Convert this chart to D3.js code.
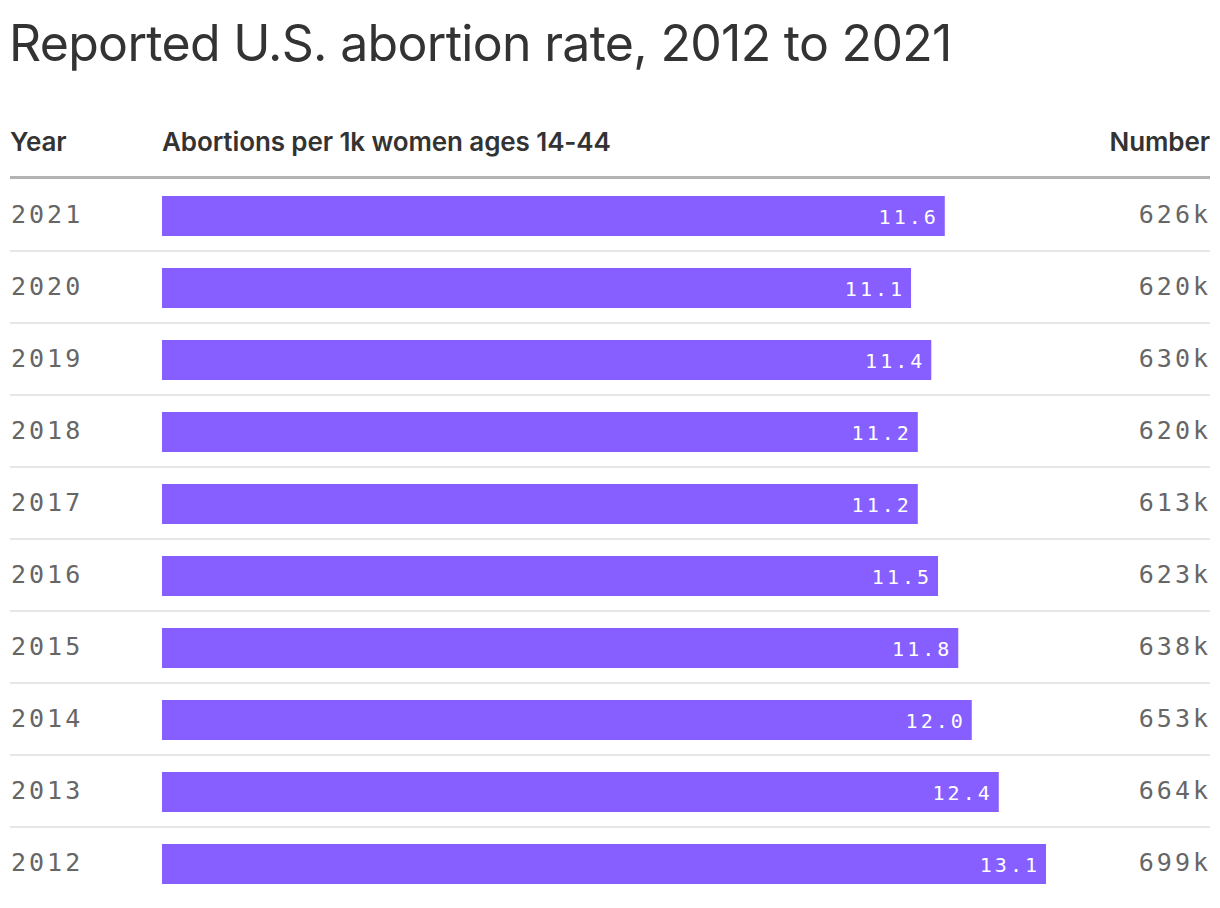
<!DOCTYPE html>
<html>
<head>
<meta charset="utf-8">
<script src="https://cdn.jsdelivr.net/npm/d3@7"></script>
<style>
  body { margin: 0; background: #fff; }
  .title { font-family: Inter, "Noto Sans", sans-serif; font-size: 50px; font-weight: 400; fill: #333; letter-spacing: -0.7px; }
  .head { font-family: Inter, "Noto Sans", sans-serif; font-size: 26px; font-weight: 600; fill: #333; letter-spacing: -0.1px; }
  .mono { font-family: "DejaVu Sans Mono", "Liberation Mono", monospace; }
  .year, .num { font-size: 25px; fill: #666; letter-spacing: 3px; }
  .val { font-size: 20px; fill: #fff; letter-spacing: 3px; }
</style>
</head>
<body>
<div id="chart"></div>
<script>
// Values
const years = ['2021', '2020', '2019', '2018', '2017', '2016', '2015', '2014', '2013', '2012'];
const rates = [11.6, 11.1, 11.4, 11.2, 11.2, 11.5, 11.8, 12.0, 12.4, 13.1];
const numbers = ['626k', '620k', '630k', '620k', '613k', '623k', '638k', '653k', '664k', '699k'];

const width = 1220;
const height = 908;
const left = 10;
const right = 1210;
const barLeft = 162;

const rows = years.map((y, i) => ({ year: y, rate: rates[i], number: numbers[i] }));

const svg = d3.select('#chart').append('svg')
  .attr('width', width)
  .attr('height', height);

// Scales
const x = d3.scaleLinear().domain([0, 13.1]).range([barLeft, 1046]);
const y = d3.scaleBand().domain(years).range([180, 900])
  .paddingInner(32 / 72).paddingOuter(16 / 72);

// Title
svg.append('text')
  .attr('class', 'title')
  .attr('x', left - 1)
  .attr('y', 61)
  .text('Reported U.S. abortion rate, 2012 to 2021');

// Column headers
svg.append('text').attr('class', 'head').attr('x', left).attr('y', 151).text('Year');
svg.append('text').attr('class', 'head').attr('x', barLeft).attr('y', 151).text('Abortions per 1k women ages 14-44');
svg.append('text').attr('class', 'head').attr('x', right).attr('y', 151)
  .attr('text-anchor', 'end').text('Number');

// Header rule
svg.append('rect')
  .attr('x', left).attr('y', 176)
  .attr('width', right - left).attr('height', 3)
  .attr('fill', '#b3b3b3');

// Row separators (none after the last row)
svg.selectAll('.sep')
  .data(years.slice(0, -1))
  .enter()
  .append('rect')
  .attr('class', 'sep')
  .attr('x', left)
  .attr('y', d => y(d) - 16 + y.step() - 2)
  .attr('width', right - left)
  .attr('height', 2)
  .attr('fill', '#e6e6e6');

const row = svg.selectAll('.row')
  .data(rows)
  .enter()
  .append('g')
  .attr('class', 'row');

// Bars
row.append('rect')
  .attr('x', x(0))
  .attr('y', d => y(d.year))
  .attr('width', d => x(d.rate) - x(0))
  .attr('height', y.bandwidth())
  .attr('fill', '#875eff');

// Value labels inside bars
row.append('text')
  .attr('class', 'mono val')
  .attr('x', d => x(d.rate) - 6)
  .attr('y', d => y(d.year) + y.bandwidth() / 2 + 8)
  .attr('text-anchor', 'end')
  .text(d => d.rate.toFixed(1));

// Year labels
row.append('text')
  .attr('class', 'mono year')
  .attr('x', 11)
  .attr('y', d => y(d.year) + y.bandwidth() / 2 + 7)
  .text(d => d.year);

// Number labels
row.append('text')
  .attr('class', 'mono num')
  .attr('x', right + 1)
  .attr('y', d => y(d.year) + y.bandwidth() / 2 + 7)
  .attr('text-anchor', 'end')
  .text(d => d.number);
</script>
</body>
</html>
